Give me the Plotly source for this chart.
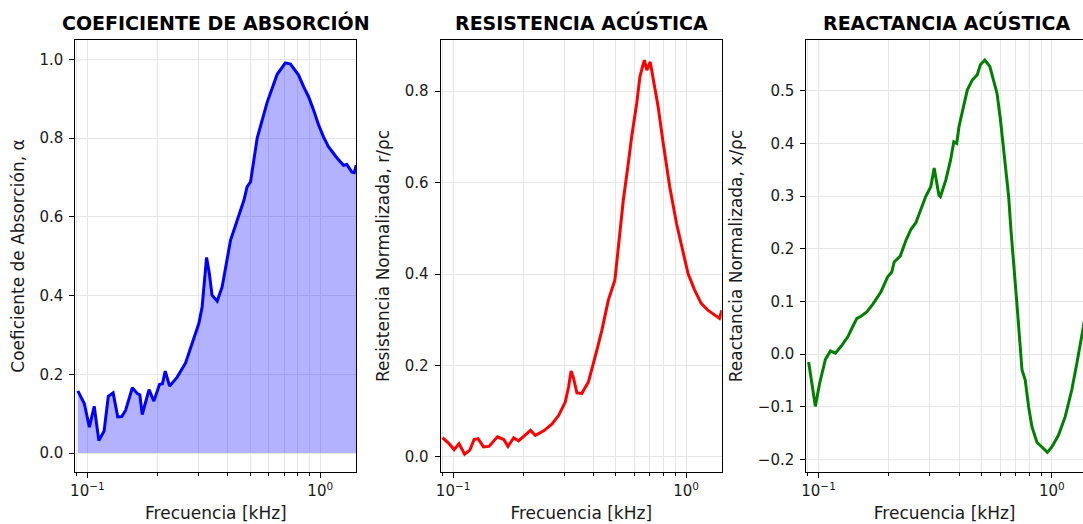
import plotly.graph_objects as go

# ---------------- data ----------------
freq_alpha = [0.091, 0.097, 0.102, 0.107, 0.112, 0.118, 0.123, 0.129, 0.135, 0.1405,
              0.146, 0.156, 0.164, 0.168, 0.172, 0.184, 0.193, 0.204, 0.210, 0.216,
              0.2255, 0.243, 0.264, 0.282, 0.301, 0.311, 0.325, 0.334, 0.343, 0.361,
              0.379, 0.412, 0.440, 0.470, 0.485, 0.502, 0.536, 0.591, 0.653, 0.708,
              0.745, 0.769, 0.807, 0.849, 0.891, 0.936, 0.984, 1.033, 1.084, 1.178,
              1.259, 1.30, 1.365, 1.40, 1.426]
alpha = [0.158, 0.126, 0.066, 0.119, 0.032, 0.056, 0.144, 0.153, 0.092, 0.093,
         0.109, 0.166, 0.151, 0.148, 0.098, 0.161, 0.132, 0.174, 0.176, 0.208,
         0.170, 0.193, 0.229, 0.278, 0.329, 0.371, 0.497, 0.456, 0.401, 0.386,
         0.422, 0.541, 0.590, 0.642, 0.676, 0.689, 0.800, 0.890, 0.962, 0.991,
         0.988, 0.977, 0.960, 0.930, 0.905, 0.871, 0.833, 0.803, 0.778, 0.750,
         0.731, 0.733, 0.714, 0.712, 0.731]

freq_r = [0.090, 0.096, 0.101, 0.106, 0.112, 0.118, 0.123, 0.128, 0.135, 0.1425,
          0.155, 0.165, 0.172, 0.182, 0.191, 0.204, 0.215, 0.2255, 0.245, 0.266,
          0.284, 0.303, 0.313, 0.321, 0.329, 0.340, 0.357, 0.381, 0.401, 0.414,
          0.435, 0.464, 0.495, 0.512, 0.538, 0.565, 0.584, 0.614, 0.634, 0.662,
          0.679, 0.702, 0.722, 0.759, 0.798, 0.851, 0.910, 0.971, 1.020, 1.089,
          1.162, 1.241, 1.325, 1.392, 1.426]
resistance = [0.042, 0.029, 0.016, 0.029, 0.006, 0.015, 0.038, 0.040, 0.022, 0.023,
              0.044, 0.038, 0.023, 0.042, 0.035, 0.047, 0.058, 0.047, 0.057, 0.072,
              0.091, 0.120, 0.153, 0.188, 0.172, 0.140, 0.139, 0.164, 0.204, 0.233,
              0.277, 0.343, 0.387, 0.460, 0.562, 0.642, 0.700, 0.773, 0.832, 0.868,
              0.846, 0.864, 0.828, 0.766, 0.686, 0.591, 0.511, 0.445, 0.401, 0.365,
              0.336, 0.321, 0.310, 0.303, 0.321]

freq_x = [0.0907, 0.0969, 0.101, 0.107, 0.1125, 0.118, 0.125, 0.1335, 0.140, 0.146,
          0.152, 0.161, 0.171, 0.185, 0.198, 0.206, 0.211, 0.224, 0.237, 0.249,
          0.261, 0.274, 0.288, 0.303, 0.313, 0.328, 0.333, 0.351, 0.368, 0.380,
          0.391, 0.400, 0.420, 0.434, 0.456, 0.479, 0.494, 0.516, 0.542, 0.563,
          0.582, 0.601, 0.622, 0.638, 0.653, 0.668, 0.686, 0.710, 0.728, 0.745,
          0.769, 0.795, 0.822, 0.863, 0.906, 0.957, 1.0, 1.067, 1.140, 1.217,
          1.279, 1.321, 1.365, 1.43]
reactance = [-0.015, -0.099, -0.056, -0.010, 0.006, 0.002, 0.015, 0.033, 0.052, 0.068,
             0.072, 0.080, 0.095, 0.118, 0.147, 0.156, 0.175, 0.186, 0.216, 0.237,
             0.249, 0.273, 0.299, 0.318, 0.353, 0.302, 0.299, 0.330, 0.368, 0.403,
             0.400, 0.432, 0.470, 0.501, 0.520, 0.530, 0.549, 0.558, 0.546, 0.520,
             0.495, 0.448, 0.387, 0.343, 0.299, 0.235, 0.178, 0.090, 0.027, -0.030,
             -0.049, -0.100, -0.138, -0.167, -0.176, -0.186, -0.176, -0.154, -0.119, -0.068,
             -0.018, 0.014, 0.052, 0.11]

titles = ["COEFICIENTE DE ABSORCIÓN", "RESISTENCIA ACÚSTICA", "REACTANCIA ACÚSTICA"]
ytitles = ["Coeficiente de Absorción, α", "Resistencia Normalizada, r/ρc",
           "Reactancia Normalizada, x/ρc"]
xtitle = "Frecuencia [kHz]"
xtick_vals = [0.1, 1.0]
xtick_text = ["10<sup>−1</sup>", "10<sup>0</sup>"]
minor_vals = [0.09, 0.2, 0.3, 0.4, 0.5, 0.6, 0.7, 0.8, 0.9]
y1_ticks = [0.0, 0.2, 0.4, 0.6, 0.8, 1.0]
y2_ticks = [0.0, 0.2, 0.4, 0.6, 0.8]
y3_ticks = [-0.2, -0.1, 0.0, 0.1, 0.2, 0.3, 0.4, 0.5]

# ---------------- figure ----------------
W, H = 1083, 524
FONT = "DejaVu Sans"
GRID = "#e6e6e6"
TXT = "#1a1a1a"

fig = go.Figure()
fig.add_trace(go.Scatter(x=freq_alpha, y=alpha, mode="lines", fill="tozeroy",
                         fillcolor="rgba(0,0,255,0.3)",
                         line=dict(color="#0000ff", width=3),
                         xaxis="x", yaxis="y", showlegend=False))
fig.add_trace(go.Scatter(x=freq_r, y=resistance, mode="lines",
                         line=dict(color="#ff0000", width=3),
                         xaxis="x2", yaxis="y2", showlegend=False))
fig.add_trace(go.Scatter(x=freq_x, y=reactance, mode="lines",
                         line=dict(color="#008000", width=3),
                         xaxis="x3", yaxis="y3", showlegend=False))

domains = [[70.7 / W, 353.1 / W], [437.7 / W, 720.1 / W], [805.0 / W, 1.0]]
xranges = [[-1.0515, 0.1555], [-1.0535, 0.1535], [-1.0525, 0.1335]]
yranges = [[-0.048, 1.049], [-0.033, 0.912], [-0.2235, 0.596]]
yticks = [y1_ticks, y2_ticks, y3_ticks]


def xaxis_cfg(i):
    return dict(
        type="log", domain=domains[i], range=xranges[i], anchor="y" if i == 0 else f"y{i+1}",
        tickvals=xtick_vals, ticktext=xtick_text, ticks="outside", ticklen=5, tickwidth=1,
        tickcolor="#000", showline=True, linecolor="#000", linewidth=1, mirror=True,
        showgrid=True, gridcolor=GRID, gridwidth=1, zeroline=False,
        minor=dict(tickvals=minor_vals, ticks="outside", ticklen=3, tickcolor="#000",
                   showgrid=True, gridcolor=GRID, gridwidth=1),
        tickfont=dict(family=FONT, size=15, color=TXT),
        title=dict(text=xtitle, font=dict(family=FONT, size=17, color=TXT), standoff=8),
    )


def yaxis_cfg(i):
    return dict(
        domain=[0, 1], range=yranges[i], anchor="x" if i == 0 else f"x{i+1}",
        tickvals=yticks[i], tickformat=".1f", ticks="outside", ticklen=5, tickwidth=1,
        tickcolor="#000", showline=True, linecolor="#000", linewidth=1, mirror=(i != 2),
        showgrid=True, gridcolor=GRID, gridwidth=1, zeroline=False,
        ticklabelstandoff=3,
        tickfont=dict(family=FONT, size=15, color=TXT),
        title=dict(text=ytitles[i], font=dict(family=FONT, size=17, color=TXT), standoff=10),
    )


fig.update_layout(
    width=W, height=H, autosize=False,
    margin=dict(l=0, r=0, t=40, b=52),
    paper_bgcolor="white", plot_bgcolor="white",
    xaxis=xaxis_cfg(0), xaxis2=xaxis_cfg(1), xaxis3=xaxis_cfg(2),
    yaxis=yaxis_cfg(0), yaxis2=yaxis_cfg(1), yaxis3=yaxis_cfg(2),
)

title_centers = [211.5 / W, 579.0 / W, 946.0 / W]
for t, cx in zip(titles, title_centers):
    fig.add_annotation(text=f"<b>{t}</b>", x=cx, y=(472 - 22.5) / 432.0,
                       xref="paper", yref="paper", xanchor="center", yanchor="middle",
                       showarrow=False, font=dict(family=FONT, size=19, color="#000"))

fig.write_html("out.html")
